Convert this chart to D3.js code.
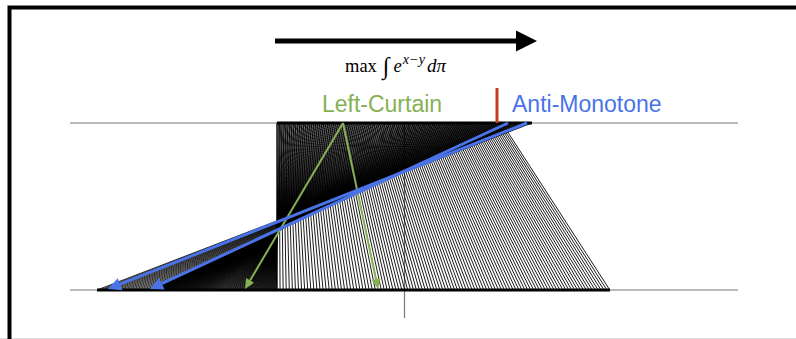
<!DOCTYPE html>
<html>
<head>
<meta charset="utf-8">
<script src="https://cdn.jsdelivr.net/npm/d3@7"></script>
<style>
  html, body { margin: 0; padding: 0; background: #fff; }
  svg { display: block; }
</style>
</head>
<body>
<svg id="chart" width="796" height="339"></svg>
<script>
// supports of the two marginals (top = mu, bottom = nu), in horizontal units
const topSupport = [277, 532];
const bottomSupport = [97, 610];
const axisExtent = [70, 738];
const meanLine = 404.5;
const upCount = 113;
const downCount = 200;

// upper map T_u (monotone) and lower map T_d (anti-monotone)
const upKnots = [277, 343, 502];
const upTargets = [277, 378, 610];
const downKnots = [277, 343, 508, 527, 532];
const downTargets = [277, 245, 150, 108, 97];

// highlighted couplings
const greenArrows = [[343, 245], [343, 378]];
const blueArrows = [[508, 150], [527, 108]];
const curtainMark = 497;

const labels = ["Left-Curtain", "Anti-Monotone"];

const svg = d3.select("#chart");
const W = 796, H = 339;

const x = d3.scaleLinear().domain([0, W]).range([0, W]);
const y = d3.scaleLinear().domain([0, 1]).range([123, 290]);

const Tu = d3.scaleLinear().domain(upKnots).range(upTargets);
const Td = d3.scaleLinear().domain(downKnots).range(downTargets);

// frame
svg.append("line")
  .attr("x1", 0).attr("x2", W).attr("y1", 338.5).attr("y2", 338.5)
  .attr("stroke", "#ddd").attr("stroke-width", 1);
svg.append("path")
  .attr("d", `M9.5,${H + 2}V7.5H${W + 2}`)
  .attr("fill", "none").attr("stroke", "#000").attr("stroke-width", 4);

// big arrow
svg.append("line")
  .attr("x1", 275).attr("x2", 518).attr("y1", 41).attr("y2", 41)
  .attr("stroke", "#000").attr("stroke-width", 5);
svg.append("path")
  .attr("d", "M516,30.5L537,41L516,51.5Z")
  .attr("fill", "#000");

// formula
const f = svg.append("text")
  .attr("x", 345).attr("y", 72)
  .attr("font-family", "'Liberation Serif', 'DejaVu Serif', serif")
  .attr("font-size", 18.5)
  .attr("fill", "#000");
f.append("tspan").text("max");
f.append("tspan").attr("font-size", 24).attr("dx", 6).attr("dy", 2).text("∫");
f.append("tspan").attr("font-style", "italic").attr("dy", -2).attr("dx", 4).text("e");
const sup = f.append("tspan").attr("font-style", "italic").attr("font-size", 14).attr("dy", -8).attr("dx", 1);
sup.append("tspan").text("x");
sup.append("tspan").attr("font-style", "normal").attr("dx", 1).text("−");
sup.append("tspan").attr("dx", 1).text("y");
f.append("tspan").attr("font-style", "italic").attr("font-size", 19).attr("dy", 8).attr("dx", 2).text("dπ");

// horizontal axes and mean line
svg.append("g")
  .selectAll("line")
  .data([0, 1])
  .join("line")
  .attr("x1", x(axisExtent[0])).attr("x2", x(axisExtent[1]))
  .attr("y1", d => y(d)).attr("y2", d => y(d))
  .attr("stroke", "#777").attr("stroke-width", 1.2);

svg.append("line")
  .attr("x1", x(meanLine)).attr("x2", x(meanLine))
  .attr("y1", y(0)).attr("y2", 318)
  .attr("stroke", "#777").attr("stroke-width", 1.2);

// transport lines
const sample = n => d3.range(n).map(i =>
  topSupport[0] + (topSupport[1] - topSupport[0]) * i / (n - 1));

const upLinks = sample(Math.round(upCount * (topSupport[1] - topSupport[0]) / (upKnots[2] - upKnots[0])))
  .filter(t => t <= upKnots[upKnots.length - 1])
  .map(t => [t, Tu(t)]);
const downLinks = sample(downCount).map(t => [t, Td(t)]);

svg.append("g")
  .attr("stroke", "#000")
  .attr("stroke-width", 0.9)
  .selectAll("line")
  .data(upLinks)
  .join("line")
  .attr("x1", d => x(d[0])).attr("y1", y(0))
  .attr("x2", d => x(d[1])).attr("y2", y(1));

svg.append("g")
  .attr("stroke", "#000")
  .attr("stroke-width", 0.85)
  .selectAll("line")
  .data(downLinks)
  .join("line")
  .attr("x1", d => x(d[0])).attr("y1", y(0))
  .attr("x2", d => x(d[1])).attr("y2", y(1));

// supports
svg.append("g")
  .selectAll("line")
  .data([[topSupport, 0], [bottomSupport, 1]])
  .join("line")
  .attr("x1", d => x(d[0][0])).attr("x2", d => x(d[0][1]))
  .attr("y1", d => y(d[1])).attr("y2", d => y(d[1]))
  .attr("stroke", "#000").attr("stroke-width", 3);

// arrow helper
function arrow(g, d, color, width, headLen, headW) {
  const x0 = x(d[0]), y0 = y(0), x1 = x(d[1]), y1 = y(1) - 1;
  const a = Math.atan2(y1 - y0, x1 - x0);
  const bx = x1 - headLen * Math.cos(a), by = y1 - headLen * Math.sin(a);
  g.append("line")
    .attr("x1", x0).attr("y1", y0).attr("x2", bx).attr("y2", by)
    .attr("stroke", color).attr("stroke-width", width);
  const px = -Math.sin(a) * headW, py = Math.cos(a) * headW;
  g.append("path")
    .attr("d", `M${x1},${y1}L${bx + px},${by + py}L${bx - px},${by - py}Z`)
    .attr("fill", color);
}

const green = "#86b153";
const blue = "#4a73e8";

const ga = svg.append("g");
greenArrows.forEach(d => arrow(ga, d, green, 2, 10, 4.5));
const ba = svg.append("g");
blueArrows.forEach(d => arrow(ba, d, blue, 3, 13, 6.5));

// red mark
svg.append("line")
  .attr("x1", x(curtainMark)).attr("x2", x(curtainMark))
  .attr("y1", 88).attr("y2", y(0))
  .attr("stroke", "#c43a20").attr("stroke-width", 3);

// labels
svg.append("text")
  .attr("x", 382).attr("y", 112)
  .attr("text-anchor", "middle")
  .attr("font-family", "'Liberation Sans', Arial, sans-serif")
  .attr("font-size", 23)
  .attr("fill", green)
  .text(labels[0]);

svg.append("text")
  .attr("x", 512).attr("y", 112)
  .attr("font-family", "'Liberation Sans', Arial, sans-serif")
  .attr("font-size", 23)
  .attr("fill", blue)
  .text(labels[1]);
</script>
</body>
</html>
